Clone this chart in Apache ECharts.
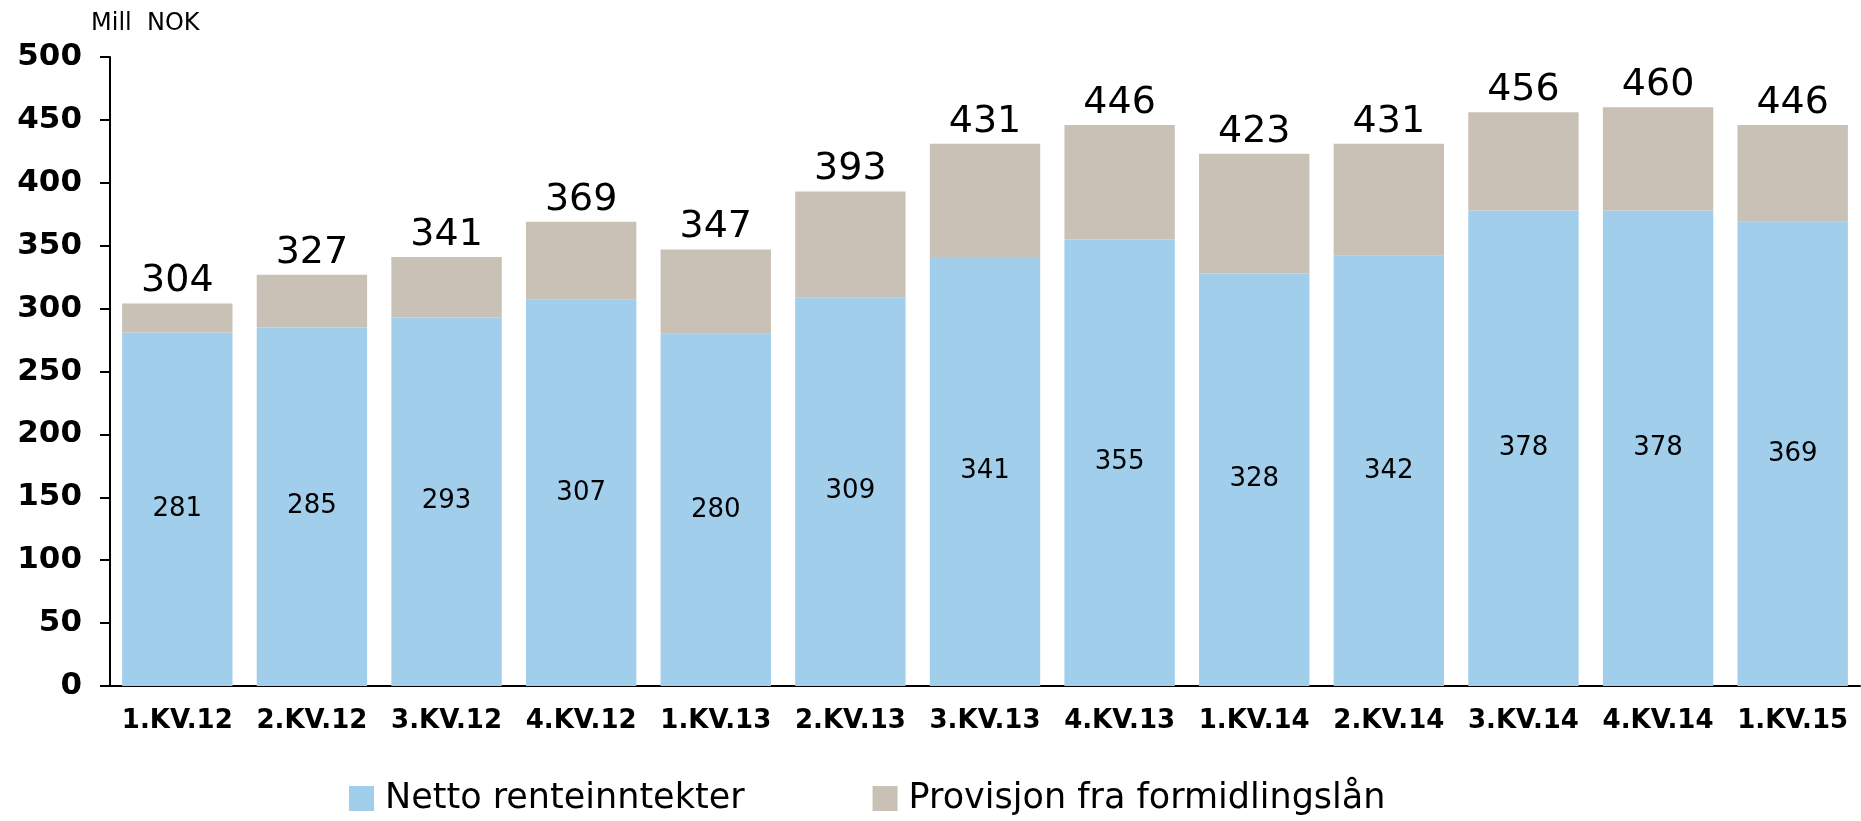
<!DOCTYPE html>
<html>
<head>
<meta charset="utf-8">
<style>
  html, body { margin: 0; padding: 0; background: #fff; }
  #chart { width: 1861px; height: 821px; }
</style>
<script src="https://cdn.jsdelivr.net/npm/echarts@6/dist/echarts.min.js"></script>
</head>
<body>
<div id="chart"></div>
<script>
// kvartaler
var categories = ['1.KV.12', '2.KV.12', '3.KV.12', '4.KV.12', '1.KV.13', '2.KV.13', '3.KV.13',
  '4.KV.13', '1.KV.14', '2.KV.14', '3.KV.14', '4.KV.14', '1.KV.15']
// Netto renteinntekter
var netto = [281, 285, 293, 307, 280, 309, 341, 355, 328, 342, 378, 378, 369]
// Provisjon fra formidlingslån
var provisjon = [23, 42, 48, 62, 67, 84, 90, 91, 95, 89, 78, 82, 77]
// sum over stolpene
var totals = [304, 327, 341, 369, 347, 393, 431, 446, 423, 431, 456, 460, 446]
var yTicks = [0, 50, 100, 150, 200, 250, 300, 350, 400, 450, 500]

var chart = echarts.init(document.getElementById('chart'))
chart.setOption({
  animation: false,
  textStyle: { fontFamily: 'DejaVu Sans' },
  grid: { left: 110, right: 1, top: 57, bottom: 135 },
  title: {
    text: 'Mill  NOK',
    left: 86,
    top: 7,
    textStyle: { fontSize: 24, fontWeight: 'normal', color: '#000' }
  },
  legend: {
    left: 344,
    top: 776,
    icon: 'rect',
    itemWidth: 25,
    itemHeight: 25,
    itemGap: 128,
    textStyle: { fontSize: 35, color: '#000', padding: [0, 0, 0, 6] },
    data: ['Netto renteinntekter', 'Provisjon fra formidlingslån']
  },
  xAxis: {
    type: 'category',
    data: categories,
    axisLine: { lineStyle: { color: '#000', width: 2 } },
    axisTick: { length: 9, lineStyle: { color: '#000', width: 2 } },
    axisLabel: { interval: 0, color: '#000', fontSize: 26, fontWeight: 'bold', margin: 22 }
  },
  yAxis: {
    type: 'value',
    min: yTicks[0],
    max: yTicks[yTicks.length - 1],
    interval: 50,
    splitLine: { show: false },
    axisLine: { show: true, lineStyle: { color: '#000', width: 2 } },
    axisTick: { show: true, length: 10, lineStyle: { color: '#000', width: 2 } },
    axisLabel: { color: '#000', fontSize: 31, fontWeight: 'bold', margin: 28 }
  },
  series: [
    {
      name: 'Netto renteinntekter',
      type: 'bar',
      stack: 'sum',
      barCategoryGap: '18%',
      data: netto,
      itemStyle: { color: '#A0CEEB' },
      label: { show: true, position: 'inside', color: '#000', fontSize: 26 }
    },
    {
      name: 'Provisjon fra formidlingslån',
      type: 'bar',
      stack: 'sum',
      barCategoryGap: '18%',
      data: provisjon,
      itemStyle: { color: '#C9C0B6' },
      label: {
        show: true,
        position: 'top',
        distance: 3,
        color: '#000',
        fontSize: 38,
        formatter: function (p) { return totals[p.dataIndex] }
      }
    }
  ]
})
</script>
</body>
</html>
